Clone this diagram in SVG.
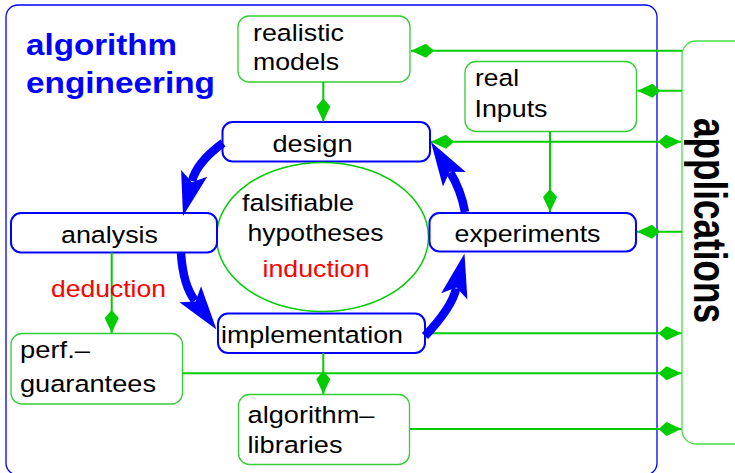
<svg xmlns="http://www.w3.org/2000/svg" width="735" height="473" viewBox="0 0 735 473">
<style>
.gbox{fill:#fff;stroke:#33cc33;stroke-width:1.3}
.bbox{fill:#fff;stroke:#0000ff;stroke-width:2}
.t{font-family:"Liberation Sans",Arial,sans-serif;font-size:24.5px;fill:#000}
.red{fill:#ff0000}
.title{font-family:"Liberation Sans",Arial,sans-serif;font-size:30px;font-weight:bold;fill:#0000ff}
.app{font-family:"Liberation Sans",Arial,sans-serif;font-size:46px;font-weight:bold;fill:#000}
.gl{fill:none;stroke:#00cc00;stroke-width:2}
.bl{fill:none;stroke:#0000ff;stroke-width:8.5}
.bh{fill:#0000ff}
</style>
<defs>
<marker id="dia" markerUnits="userSpaceOnUse" viewBox="-24 -8 25 16" refX="0" refY="0" markerWidth="25" markerHeight="16" orient="auto-start-reverse">
<path d="M0,0 L-15,-7 L-23,0 L-15,7 Z" fill="#00cc00"/>
</marker>
<path id="bhead" d="M0,0 L-44,-13.5 L-35,0 L-44,13.5 Z"/>
</defs>

<g id="frame">
<rect x="6" y="5" width="651" height="470" rx="12" fill="none" stroke="#0000ff" stroke-width="1.3"/>
<text class="title" x="26" y="55" textLength="151" lengthAdjust="spacingAndGlyphs">algorithm</text>
<text class="title" x="26" y="93" textLength="189" lengthAdjust="spacingAndGlyphs">engineering</text>
</g>

<g id="applications">
<rect x="682" y="41" width="80" height="403" rx="14" fill="#fff" stroke="#44dd44" stroke-width="1.3"/>
<text class="app" transform="translate(693.5,118) rotate(90)" x="0" y="0" textLength="205" lengthAdjust="spacingAndGlyphs">applications</text>
</g>

<g id="realistic-models">
<rect class="gbox" x="238" y="16" width="172" height="66" rx="11"/>
<text class="t" x="253" y="40.5" textLength="91" lengthAdjust="spacingAndGlyphs">realistic</text>
<text class="t" x="253" y="70" textLength="86" lengthAdjust="spacingAndGlyphs">models</text>
</g>

<g id="real-inputs">
<rect class="gbox" x="465" y="61.5" width="171.5" height="70" rx="11"/>
<text class="t" x="475" y="85.7" textLength="44" lengthAdjust="spacingAndGlyphs">real</text>
<text class="t" x="474.5" y="116.7" textLength="73" lengthAdjust="spacingAndGlyphs">Inputs</text>
</g>

<g id="design">
<rect class="bbox" x="222.5" y="122" width="207.5" height="39.5" rx="10"/>
<text class="t" x="272.5" y="151.7" textLength="80" lengthAdjust="spacingAndGlyphs">design</text>
</g>

<g id="hypotheses">
<ellipse cx="322.5" cy="237" rx="106" ry="74.5" fill="#fff" stroke="#00cc00" stroke-width="1.5"/>
<text class="t" x="242" y="210.5" textLength="112" lengthAdjust="spacingAndGlyphs">falsifiable</text>
<text class="t" x="247.5" y="240.5" textLength="136" lengthAdjust="spacingAndGlyphs">hypotheses</text>
<text class="t red" x="262.5" y="276.7" textLength="107" lengthAdjust="spacingAndGlyphs">induction</text>
</g>

<g id="analysis">
<rect class="bbox" x="11" y="213" width="206" height="39.5" rx="10"/>
<text class="t" x="61" y="242.7" textLength="97" lengthAdjust="spacingAndGlyphs">analysis</text>
</g>

<g id="experiments">
<rect class="bbox" x="429.5" y="213" width="206.5" height="38.5" rx="10"/>
<text class="t" x="454.5" y="242.3" textLength="146" lengthAdjust="spacingAndGlyphs">experiments</text>
</g>

<g id="implementation">
<rect class="bbox" x="218" y="313.5" width="207" height="39.5" rx="10"/>
<text class="t" x="221" y="343.3" textLength="182" lengthAdjust="spacingAndGlyphs">implementation</text>
</g>

<g id="perf-guarantees">
<rect class="gbox" x="11" y="333.5" width="171.5" height="70.5" rx="11"/>
<text class="t" x="20" y="357.7" textLength="70" lengthAdjust="spacingAndGlyphs">perf.–</text>
<text class="t" x="20" y="392.3" textLength="136" lengthAdjust="spacingAndGlyphs">guarantees</text>
</g>

<g id="algorithm-libraries">
<rect class="gbox" x="238.5" y="394.5" width="171" height="70" rx="11"/>
<text class="t" x="247.5" y="423.3" textLength="127" lengthAdjust="spacingAndGlyphs">algorithm–</text>
<text class="t" x="247.5" y="453.3" textLength="95" lengthAdjust="spacingAndGlyphs">libraries</text>
</g>

<g id="connectors">
<path class="gl" d="M682,50.7 H411" marker-end="url(#dia)" stroke-width="2.5"/>
<path class="gl" d="M682,90.7 H637.5" marker-end="url(#dia)"/>
<path class="gl" d="M431,141.7 H681" marker-start="url(#dia)" marker-end="url(#dia)"/>
<path class="gl" d="M550,131.5 V212" marker-end="url(#dia)"/>
<path class="gl" d="M682,231.7 H637" marker-end="url(#dia)"/>
<path class="gl" d="M425,333.3 H681.5" marker-end="url(#dia)"/>
<path class="gl" d="M182.5,373.3 H681.5" marker-end="url(#dia)"/>
<path class="gl" d="M409.5,429 H681.5" marker-end="url(#dia)"/>
<path class="gl" d="M323.3,353 V394" marker-end="url(#dia)"/>
<path class="gl" d="M111.7,252.5 V333" marker-end="url(#dia)"/>
<path class="gl" d="M323.3,82 V121.5" marker-end="url(#dia)"/>
<text class="t red" x="51" y="297.3" textLength="115" lengthAdjust="spacingAndGlyphs">deduction</text>

<path class="bl" d="M223,143 Q197,162 192,181"/>
<use href="#bhead" class="bh" transform="translate(183,216) rotate(104.7)"/>
<path class="bl" d="M181,253 Q183,285 195,300.7"/>
<use href="#bhead" class="bh" transform="translate(216.5,329.5) rotate(53.3)"/>
<path class="bl" d="M425,336 Q451.6,308 456.2,288.5"/>
<use href="#bhead" class="bh" transform="translate(464.5,253.5) rotate(-76.6)"/>
<path class="bl" d="M465,212 Q460.8,189.4 450.2,172.5"/>
<use href="#bhead" class="bh" transform="translate(431,142) rotate(-122.1)"/>
</g>
</svg>
